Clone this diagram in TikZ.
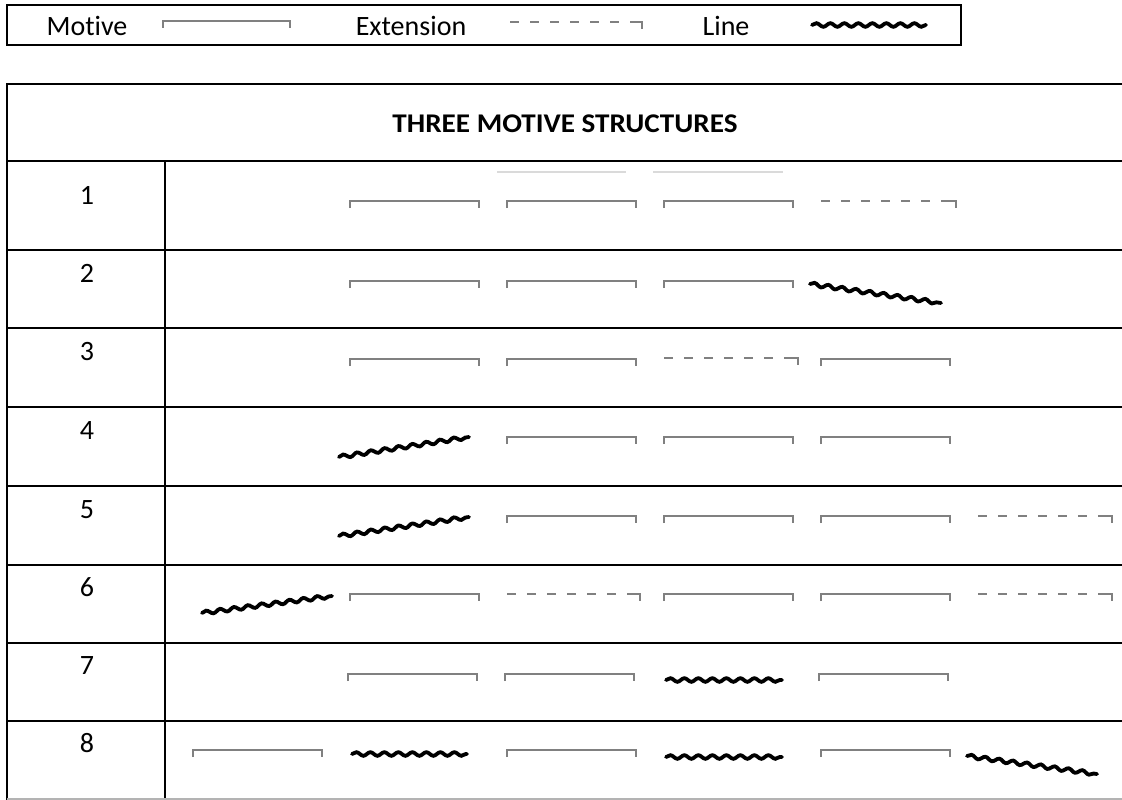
\documentclass[tikz,border=0pt]{standalone}
\usepackage{fontspec}
\setmainfont{Carlito}[Ligatures=NoCommon]
\usetikzlibrary{decorations.pathmorphing}
\definecolor{brk}{HTML}{808080}
\definecolor{faded}{HTML}{DADADA}
\tikzset{
  motive/.style={draw=brk, line width=1.6pt},
  extdash/.style={draw=brk, line width=1.6pt, dash pattern=on 9pt off 11pt},
  wavy/.style={draw=black, line width=3.8pt, line cap=round, decorate, decoration={snake, segment length=14pt, amplitude=1.8pt}},
  tbl/.style={draw=black, line width=1.8pt},
  lbl/.style={font=\fontsize{28}{32}\selectfont, anchor=base, inner sep=0pt},
  ttl/.style={font=\fontsize{27}{32}\selectfont\bfseries, anchor=base, inner sep=0pt},
}
\newcommand\mymot[3]{\draw[motive] (#1,#3+7) -- (#1,#3) -- (#2,#3) -- (#2,#3+7);}
\newcommand\myext[3]{\draw[extdash] (#1,#3) -- (#2-9,#3); \draw[motive] (#2-9,#3) -- (#2,#3) -- (#2,#3+7);}
\newcommand\mywave[4]{\draw[wavy] (#1,#2) -- (#3,#4);}
\begin{document}
\begin{tikzpicture}[x=1pt,y=-1pt]
\useasboundingbox (0,0) rectangle (1122,800);
% legend
\draw[tbl] (7,5) rectangle (961,45);
\node[lbl] (lmot) at (87,36) {Motive};
\mymot{163}{290}{21}
\node[lbl] (lext) at (411,36) {Extension};
\myext{510}{642}{22}
\node[lbl] (lline) at (726,36) {Line};
\mywave{812}{25}{926}{25}
% table
\draw[tbl] (1122,84) -- (7,84) -- (7,800);
\foreach \yy in {161,250,328,407,486,565,643,721} {\draw[tbl] (7,\yy) -- (1122,\yy);}
\draw[tbl] (165,161) -- (165,800);
\draw[draw=brk!60, line width=1.5pt] (7,799) -- (1122,799);
\node[ttl] (title) at (565,132) {\scalebox{1.08}[1]{THREE MOTIVE STRUCTURES}};
% row numbers
\foreach \n/\yy in {1/204,2/282,3/360,4/439,5/518,6/596,7/674,8/752} {\node[lbl] (r\n) at (87,\yy) {\n};}
% row 1
\draw[faded, line width=2.5pt] (497,172) -- (626,172);
\draw[faded, line width=2.5pt] (653,172) -- (783,172);
\mymot{350}{479}{201}\mymot{507}{636}{201}\mymot{664}{793}{201}\myext{821}{956}{201}
% row 2
\mymot{350}{479}{281}\mymot{507}{636}{281}\mymot{664}{793}{281}
\mywave{810}{284}{941}{303}
% row 3
\mymot{350}{479}{359}\mymot{507}{636}{359}\myext{664}{798}{358}\mymot{821}{950}{359}
% row 4
\mywave{339}{457}{469}{437}
\mymot{507}{636}{437}\mymot{664}{793}{437}\mymot{821}{950}{437}
% row 5
\mywave{339}{536}{469}{517}
\mymot{507}{636}{516}\mymot{664}{793}{516}\mymot{821}{950}{516}\myext{978}{1112}{516}
% row 6
\mywave{202}{613}{332}{596}
\mymot{350}{479}{594}\myext{507}{640}{594}\mymot{664}{793}{594}\mymot{821}{950}{594}\myext{978}{1112}{594}
% row 7
\mymot{348}{477}{674}\mymot{505}{634}{674}\mywave{666}{680}{782}{680}\mymot{819}{948}{674}
% row 8
\mymot{193}{322}{750}\mywave{352}{754}{467}{754}\mymot{507}{636}{750}\mywave{666}{757}{782}{757}\mymot{821}{950}{750}
\mywave{967}{756}{1097}{774}
\end{tikzpicture}
\end{document}
